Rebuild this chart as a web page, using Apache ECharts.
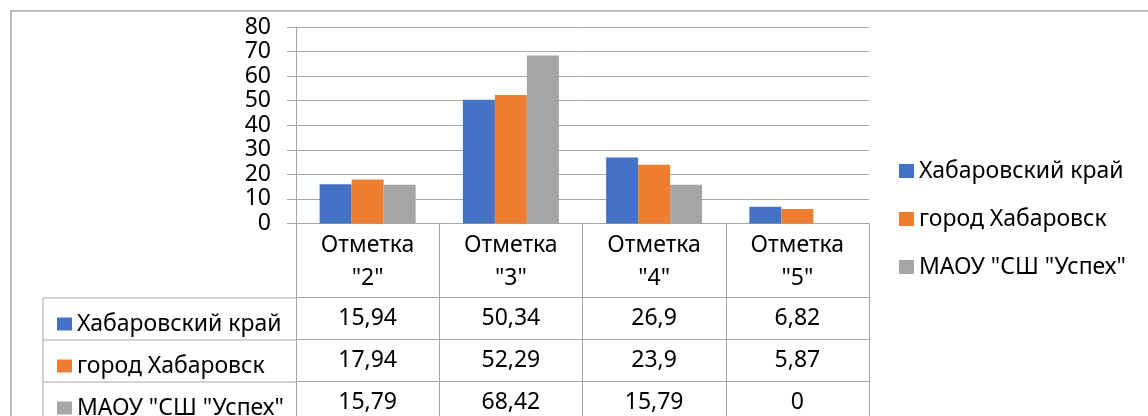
<!DOCTYPE html>
<html>
<head>
<meta charset="utf-8">
<style>
  html, body { margin: 0; padding: 0; background: #fff; }
  #chart { width: 1148px; height: 416px; }
</style>
<script src="https://cdn.jsdelivr.net/npm/echarts@6/dist/echarts.min.js"></script>
</head>
<body>
<div id="chart"></div>
<script>
// data
const categories = ['Отметка "2"', 'Отметка "3"', 'Отметка "4"', 'Отметка "5"']
const seriesNames = ['Хабаровский край', 'город Хабаровск', 'МАОУ "СШ "Успех"']
const khabKrai = [15.94, 50.34, 26.9, 6.82]
const khabCity = [17.94, 52.29, 23.9, 5.87]
const uspekh = [15.79, 68.42, 15.79, 0]
const yTicks = { min: 0, max: 80, interval: 10 }

const colors = ['#4472C4', '#ED7D31', '#A5A5A5']
const lineColor = '#a6a6a6'
const font = 'Noto Sans'
const fs = 23

// layout
const plotLeft = 296
const plotTop = 27
const plotWidth = 573
const plotHeight = 197.5
const axisY = plotTop + plotHeight
const headRow = 73.5   // height of the category label row
const rowH = 42
const tableLeft = 43

const rows = [khabKrai, khabCity, uspekh]
const fmt = v => String(v).replace('.', ',')

const chart = echarts.init(document.getElementById('chart'))

// value rows of the data table as extra category axes under the plot
const tableAxes = rows.map((vals, i) => ({
  type: 'category',
  data: categories,
  position: 'bottom',
  offset: headRow + rowH * i,
  axisLine: { show: true, lineStyle: { color: lineColor, width: 1 } },
  axisTick: { show: true, length: rowH, lineStyle: { color: lineColor, width: 1 } },
  axisLabel: {
    interval: 0,
    margin: 7,
    fontFamily: font,
    fontSize: fs,
    lineHeight: 28,
    color: '#000',
    formatter: (v, idx) => fmt(vals[idx])
  },
  splitLine: { show: false }
}))

// left header column lines of the table
const tableLines = []
for (let i = 0; i < 3; i++) {
  const y = axisY + headRow + rowH * i
  tableLines.push({
    type: 'line',
    shape: { x1: tableLeft, y1: y, x2: plotLeft, y2: y },
    style: { stroke: lineColor, lineWidth: 1 }
  })
}
tableLines.push({
  type: 'line',
  shape: { x1: tableLeft, y1: axisY + headRow, x2: tableLeft, y2: 460 },
  style: { stroke: lineColor, lineWidth: 1 }
})

chart.setOption({
  animation: false,
  color: colors,
  textStyle: { fontFamily: font },
  grid: {
    left: plotLeft,
    top: plotTop,
    width: plotWidth,
    height: plotHeight
  },
  legend: [{
    data: seriesNames,
    orient: 'vertical',
    left: 894,
    top: 152,
    icon: 'rect',
    itemWidth: 15,
    itemHeight: 14,
    itemGap: 20,
    selectedMode: false,
    textStyle: { fontFamily: font, fontSize: fs, lineHeight: 28, color: '#000' }
  }, {
    data: seriesNames,
    orient: 'vertical',
    left: 52,
    top: axisY + headRow + 7,
    height: 300,
    icon: 'rect',
    itemWidth: 15,
    itemHeight: 13,
    itemGap: 14,
    selectedMode: false,
    textStyle: { fontFamily: font, fontSize: fs, lineHeight: 28, color: '#000' }
  }],
  xAxis: [{
    type: 'category',
    data: categories,
    position: 'bottom',
    axisLine: { show: true, lineStyle: { color: lineColor, width: 1 } },
    axisTick: { show: true, length: headRow, lineStyle: { color: lineColor, width: 1 } },
    axisLabel: {
      interval: 0,
      margin: 5,
      fontFamily: font,
      fontSize: fs,
      lineHeight: 33,
      color: '#000',
      formatter: v => v.replace(' ', '\n')
    },
    splitLine: { show: false }
  }].concat(tableAxes),
  yAxis: {
    type: 'value',
    min: yTicks.min,
    max: yTicks.max,
    interval: yTicks.interval,
    axisLine: { show: true, lineStyle: { color: lineColor, width: 1 } },
    axisTick: { show: true, length: 9, lineStyle: { color: lineColor, width: 1 } },
    axisLabel: { margin: 25, fontFamily: font, fontSize: fs, color: '#000', padding: [5, 0, 0, 0] },
    splitLine: { lineStyle: { color: lineColor, width: 1 } }
  },
  graphic: [{
    type: 'rect',
    shape: { x: 11, y: 11, width: 1300, height: 600 },
    style: { fill: 'none', stroke: lineColor, lineWidth: 1.5 },
    silent: true
  }].concat(tableLines),
  series: rows.map((vals, i) => ({
    name: seriesNames[i],
    type: 'bar',
    data: vals,
    barWidth: 32,
    barGap: '0%'
  }))
})
</script>
</body>
</html>
